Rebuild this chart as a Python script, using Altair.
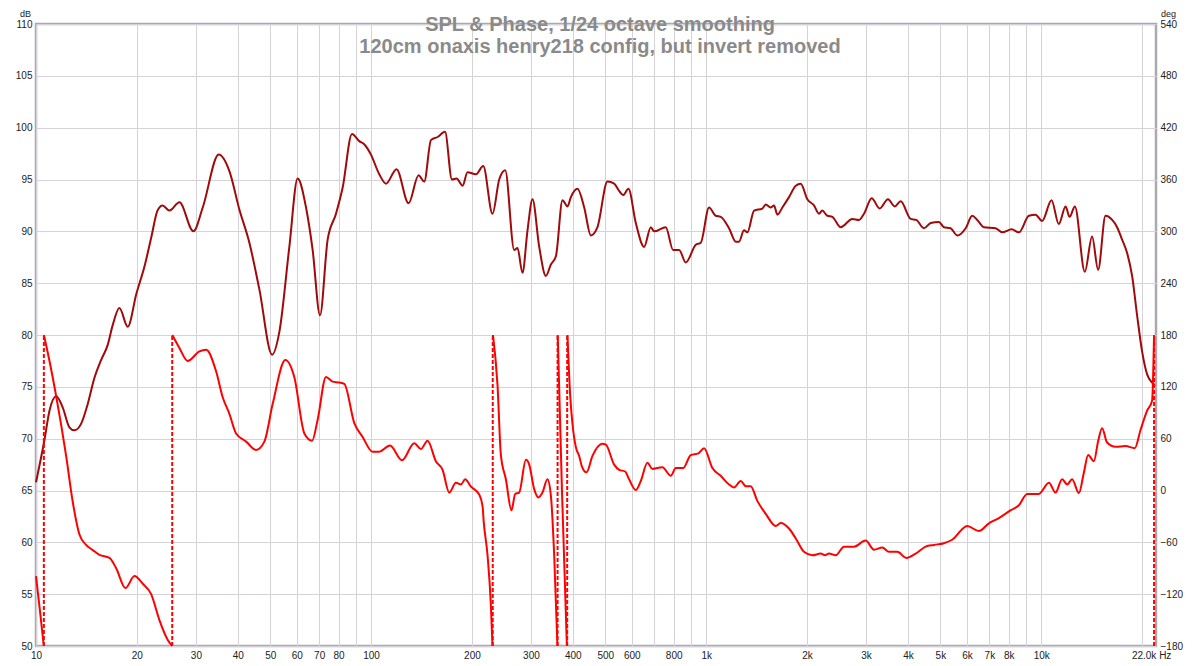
import altair as alt
import pandas as pd

# ---------------- data ----------------
spl_freq = [10.0, 10.6, 10.97, 11.49, 12.02, 12.58, 13.02, 13.64, 14.27, 14.95, 15.65, 16.37, 16.94,
            17.74, 18.78, 19.94, 21.07, 22.11, 23.04, 23.85, 25.02, 26.79, 29.5, 31.45, 35.1, 37.77,
            40.45, 43.33, 46.41, 50.63, 53.24, 57.02, 60.37, 63.95, 66.92, 70.4, 74.19, 78.58, 82.23,
            87.7, 92.2, 95.4, 99.9, 105.8, 110.8, 119.1, 129.4, 138.6, 144.1, 150.9, 157.9, 166.2,
            174.3, 179.9, 187.5, 194.0, 205.5, 216.1, 230.3, 241.2, 251.3, 267.4, 273.5, 283.0, 293.0,
            303.2, 317.5, 332.4, 344.0, 356.1, 372.6, 385.6, 394.7, 413.0, 432.5, 452.8, 473.8, 507.5,
            531.4, 550.0, 565.3, 586.2, 616.6, 652.8, 683.6, 699.2, 757.7, 796.7, 830.3, 869.3, 931.1,
            963.6, 1020, 1068, 1105, 1170, 1226, 1253, 1297, 1327, 1390, 1471, 1506, 1558, 1594, 1631,
            1688, 1767, 1851, 1915, 2004, 2098, 2171, 2221, 2299, 2379, 2521, 2730, 2858, 2958, 3119,
            3295, 3488, 3652, 3806, 4076, 4236, 4466, 4677, 4950, 5122, 5363, 5614, 5949, 6222, 6440,
            6743, 7306, 7645, 8157, 8577, 9186, 9616, 10060, 10730, 11280, 11820, 12150, 12600, 13490,
            14180, 14780, 15550, 16280, 16840, 17430, 18040, 18670, 19320, 20000, 20700, 21420, 21820]
spl_db = [65.8, 69.9, 72.7, 74.1, 73.0, 71.1, 70.8, 71.45, 73.35, 75.9, 77.6, 79.05, 80.95,
          82.6, 80.8, 84.0, 86.6, 89.5, 92.0, 92.5, 92.0, 92.8, 90.0, 92.3, 97.4, 95.8,
          92.1, 88.9, 84.4, 78.1, 80.3, 88.5, 95.1, 92.3, 88.2, 81.9, 89.2, 91.7, 94.2,
          99.4, 98.7, 98.4, 97.4, 95.5, 94.6, 96.0, 92.7, 95.4, 94.8, 98.8, 99.1, 99.6,
          95.0, 95.1, 94.4, 95.7, 95.5, 96.3, 91.7, 95.0, 95.9, 88.2, 88.4, 86.0, 90.1,
          93.1, 88.5, 85.7, 86.8, 87.6, 93.0, 92.4, 93.3, 94.1, 92.3, 89.6, 90.4, 94.8,
          94.6, 93.9, 93.5, 94.1, 90.8, 88.5, 90.4, 90.0, 90.4, 88.2, 88.2, 87.0, 88.7,
          88.9, 92.3, 91.5, 91.4, 90.3, 89.0, 89.0, 90.1, 89.9, 92.0, 92.2, 92.6, 92.3, 92.5, 91.6,
          92.3, 93.3, 94.4, 94.6, 93.1, 92.5, 91.7, 92.0, 91.5, 91.4, 90.4, 91.2, 91.1, 91.7, 93.2,
          92.2, 93.1, 92.4, 92.9, 91.2, 91.1, 90.3, 90.8, 90.9, 90.4, 90.3, 89.6, 90.3, 91.5, 91.1,
          90.4, 90.3, 89.9, 90.2, 89.9, 91.5, 91.6, 91.0, 93.0, 90.7, 92.4, 91.4, 92.4, 86.1,
          89.5, 86.3, 91.5, 91.1, 90.4, 89.2, 87.9, 85.7, 81.9, 78.4, 76.2, 75.4, 75.2]

# wrapped phase (deg); a new segment starts wherever the value jumps from -180 to +180
phase_freq = [10.0, 10.28, 10.55,
              10.56, 11.01, 11.49, 12.30, 12.87, 13.48, 14.11, 14.77, 15.47, 16.57, 17.35, 18.49,
              19.67, 20.83, 22.06, 23.35, 24.73, 25.48,
              25.52, 26.79, 28.36, 30.73, 32.19, 34.47, 36.07, 37.77, 39.55, 42.36, 45.36, 48.03,
              50.84, 55.48, 59.02, 63.22, 66.65, 69.27, 73.37, 76.77, 80.37, 83.18, 89.11, 94.34,
              101.0, 105.8, 113.9, 123.7, 134.5, 140.8, 147.4, 156.2, 163.4, 171.1, 179.1, 185.4,
              190.9, 198.6, 210.2, 215.1, 216.8, 222.6, 227.8, 230.3,
              231.1, 238.4, 244.0, 252.5, 262.4, 269.2, 276.7, 289.7, 296.4, 306.7, 315.9, 324.7,
              336.0, 344.0, 351.9, 359.9,
              360.6, 371.2, 384.0,
              385.6, 392.8, 399.1, 408.5, 417.8, 425.6, 439.3, 457.8, 490.3, 501.8, 531.4, 550.0,
              573.0, 588.8, 616.6, 638.1, 667.8, 691.1, 740.3, 784.3, 811.7, 853.3, 899.5, 947.8,
              985.6, 1043.5, 1105, 1170, 1211, 1268, 1313, 1358, 1421, 1506, 1613, 1669, 1767,
              1851, 1958, 2074, 2197, 2263, 2326, 2435, 2578, 2761, 2992, 3168, 3354, 3513, 3718,
              3956, 4218, 4519, 4785, 5122, 5423, 6012, 6514, 6979, 7474, 8097, 8577, 9078, 9838,
              10540, 11030, 11540, 11950, 12360, 12950, 13400, 13800, 14360, 14780, 15190, 15720,
              16660, 17840, 19020, 19780, 20700, 21420, 21710]
phase_deg = [-99, -140, -180,
             180, 147, 109, 40, -13, -51, -63, -69, -74.5, -78, -90, -113,
             -99, -108, -120, -150, -173, -180,
             180, 165, 150, 161, 163, 138, 108, 88.8, 66, 56.6, 47, 56.6,
             100, 151, 131, 66, 57.6, 82, 131.5, 126, 125, 123.5, 78, 62,
             45, 45, 52, 35, 54.6, 48, 57.6, 33.6, 24, -2.4, 9, 7,
             13, 4.6, -4.7, -18, -36, -75, -133, -180,
             180, 122, 41, 13, -23, -4, -2.4, 35.5, 30, 1.6, -8, -2.4,
             13, -6, -75, -180,
             180, 0, -180,
             180, 110, 77, 50, 40, 28, 21, 40, 54, 53, 30, 24,
             22, 13, 0.6, 11, 32, 25, 27, 17, 26, 26, 41, 43,
             49, 26, 17, 7, 3.5, 11, 5, 5, -12, -27, -41, -37.5, -44,
             -55.5, -71, -75, -73, -75, -73, -75, -65, -65, -58, -68.5, -66, -71, -71,
             -78, -73, -65, -63, -61, -57, -41, -47, -38, -32, -23, -17, -4, -4,
             9, -2.4, 13, 7, 13, -3, 20.5, 41, 34, 57, 72, 55.5,
             50.5, 51.5, 49, 70, 92.5, 104, 180]

wrap_freq = [10.555, 25.5, 230.7, 360.2, 384.8, 21710]
wrap_lo = [-180, -180, -180, -180, -180, -180]
wrap_hi = [180, 180, 180, 180, 180, 180]

x_tick_values = [10, 20, 30, 40, 50, 60, 70, 80, 90, 100, 200, 300, 400, 500, 600, 700, 800, 900,
                 1000, 2000, 3000, 4000, 5000, 6000, 7000, 8000, 9000, 10000, 20000]
x_tick_labels = ['10', '20', '30', '40', '50', '60', '70', '80', '', '100', '200', '300', '400',
                 '500', '600', '', '800', '', '1k', '2k', '3k', '4k', '5k', '6k', '7k', '8k', '',
                 '10k', '22.0k Hz']
db_ticks = list(range(50, 111, 5))
deg_ticks = list(range(-180, 541, 60))

title_lines = ['SPL & Phase, 1/24 octave smoothing',
               '120cm onaxis henry218 config, but invert removed']

# ---------------- tables ----------------
phase_seg = []
seg = 0
for i, d in enumerate(phase_deg):
    if i > 0 and d - phase_deg[i - 1] > 180:
        seg += 1
    phase_seg.append(seg)

spl_df = pd.DataFrame({'freq': spl_freq, 'db': spl_db})
phase_df = pd.DataFrame({'freq': phase_freq, 'deg': phase_deg, 'seg': phase_seg})
wrap_df = pd.DataFrame({'freq': wrap_freq, 'lo': wrap_lo, 'hi': wrap_hi})

label_expr = "''"
for v, l in reversed(list(zip(x_tick_values, x_tick_labels))):
    label_expr = f"datum.value == {v} ? '{l}' : " + label_expr

FONT = 'Liberation Sans'
GRID = '#d5d2d9'
LABEL = '#222222'

x_scale = alt.Scale(type='log', domain=[10, 22000], nice=False)
x_axis = alt.Axis(values=x_tick_values, labelExpr=label_expr, grid=True, gridColor=GRID,
                  gridWidth=1, ticks=False, domain=False, labelFlush=False, labelOverlap=False,
                  labelBound=False, labelPadding=4, labelFontSize=10, labelFont=FONT,
                  labelColor=LABEL, title=None,
                  labelOffset={"condition": {"test": "datum.value == 20000", "value": 9},
                               "value": 0})

db_axis = alt.Axis(values=db_ticks, grid=True, gridColor=GRID, gridWidth=1, ticks=False,
                   domain=False, labelPadding=4, labelFontSize=10, labelFont=FONT,
                   labelColor=LABEL, labelFlush=False, labelOverlap=False,
                   title='dB', titleAngle=0, titleAlign='center', titleBaseline='alphabetic',
                   titleX=-11, titleY=-7.6, titleFont=FONT, titleFontSize=9,
                   titleFontWeight='normal', titleColor=LABEL)

deg_axis = alt.Axis(values=deg_ticks, orient='right', grid=False, ticks=False, domain=False,
                    labelPadding=4, labelFontSize=10, labelFont=FONT, labelColor=LABEL,
                    labelFlush=False, labelOverlap=False,
                    title='deg', titleAngle=0, titleAlign='center', titleBaseline='alphabetic',
                    titleX=12, titleY=-7.6, titleFont=FONT, titleFontSize=9,
                    titleFontWeight='normal', titleColor=LABEL)

deg_scale = alt.Scale(domain=[-180, 540], nice=False, zero=False)

spl = alt.Chart(spl_df).mark_line(color='#a00a0a', strokeWidth=2, interpolate='monotone').encode(
    x=alt.X('freq:Q', scale=x_scale, axis=x_axis),
    y=alt.Y('db:Q', scale=alt.Scale(domain=[50, 110], nice=False, zero=False), axis=db_axis),
)

phase_line = alt.Chart(phase_df).mark_line(color='#ff0000', strokeWidth=2,
                                           interpolate='monotone').encode(
    x=alt.X('freq:Q', scale=x_scale, axis=x_axis),
    y=alt.Y('deg:Q', scale=deg_scale, axis=deg_axis),
    detail='seg:N',
)

wraps = alt.Chart(wrap_df).mark_rule(color='#ff0000', strokeWidth=2, strokeDash=[4, 2]).encode(
    x=alt.X('freq:Q', scale=x_scale, axis=x_axis),
    y=alt.Y('lo:Q', scale=deg_scale, axis=deg_axis),
    y2='hi:Q',
)

phase = alt.layer(phase_line, wraps)

title1 = alt.Chart(pd.DataFrame({'t': [title_lines[0]]})).mark_text(
    font=FONT, fontSize=20, fontWeight='bold', color='#8a8a8a', align='center',
    baseline='alphabetic').encode(text='t:N', x=alt.value(564), y=alt.value(6.7))
title2 = alt.Chart(pd.DataFrame({'t': [title_lines[1]]})).mark_text(
    font=FONT, fontSize=20, fontWeight='bold', color='#8a8a8a', align='center',
    baseline='alphabetic').encode(text='t:N', x=alt.value(564), y=alt.value(29.3))

chart = alt.layer(spl, phase, title1, title2).resolve_scale(y='independent').properties(
    width=1120, height=622,
    padding={'left': 28, 'top': 16, 'right': 36, 'bottom': 20},
    autosize=alt.AutoSizeParams(type='none'),
    background='white',
).configure_view(stroke='#aca8b0', strokeWidth=2.5)

chart.save('out.html', embed_options={'renderer': 'svg', 'actions': False})
